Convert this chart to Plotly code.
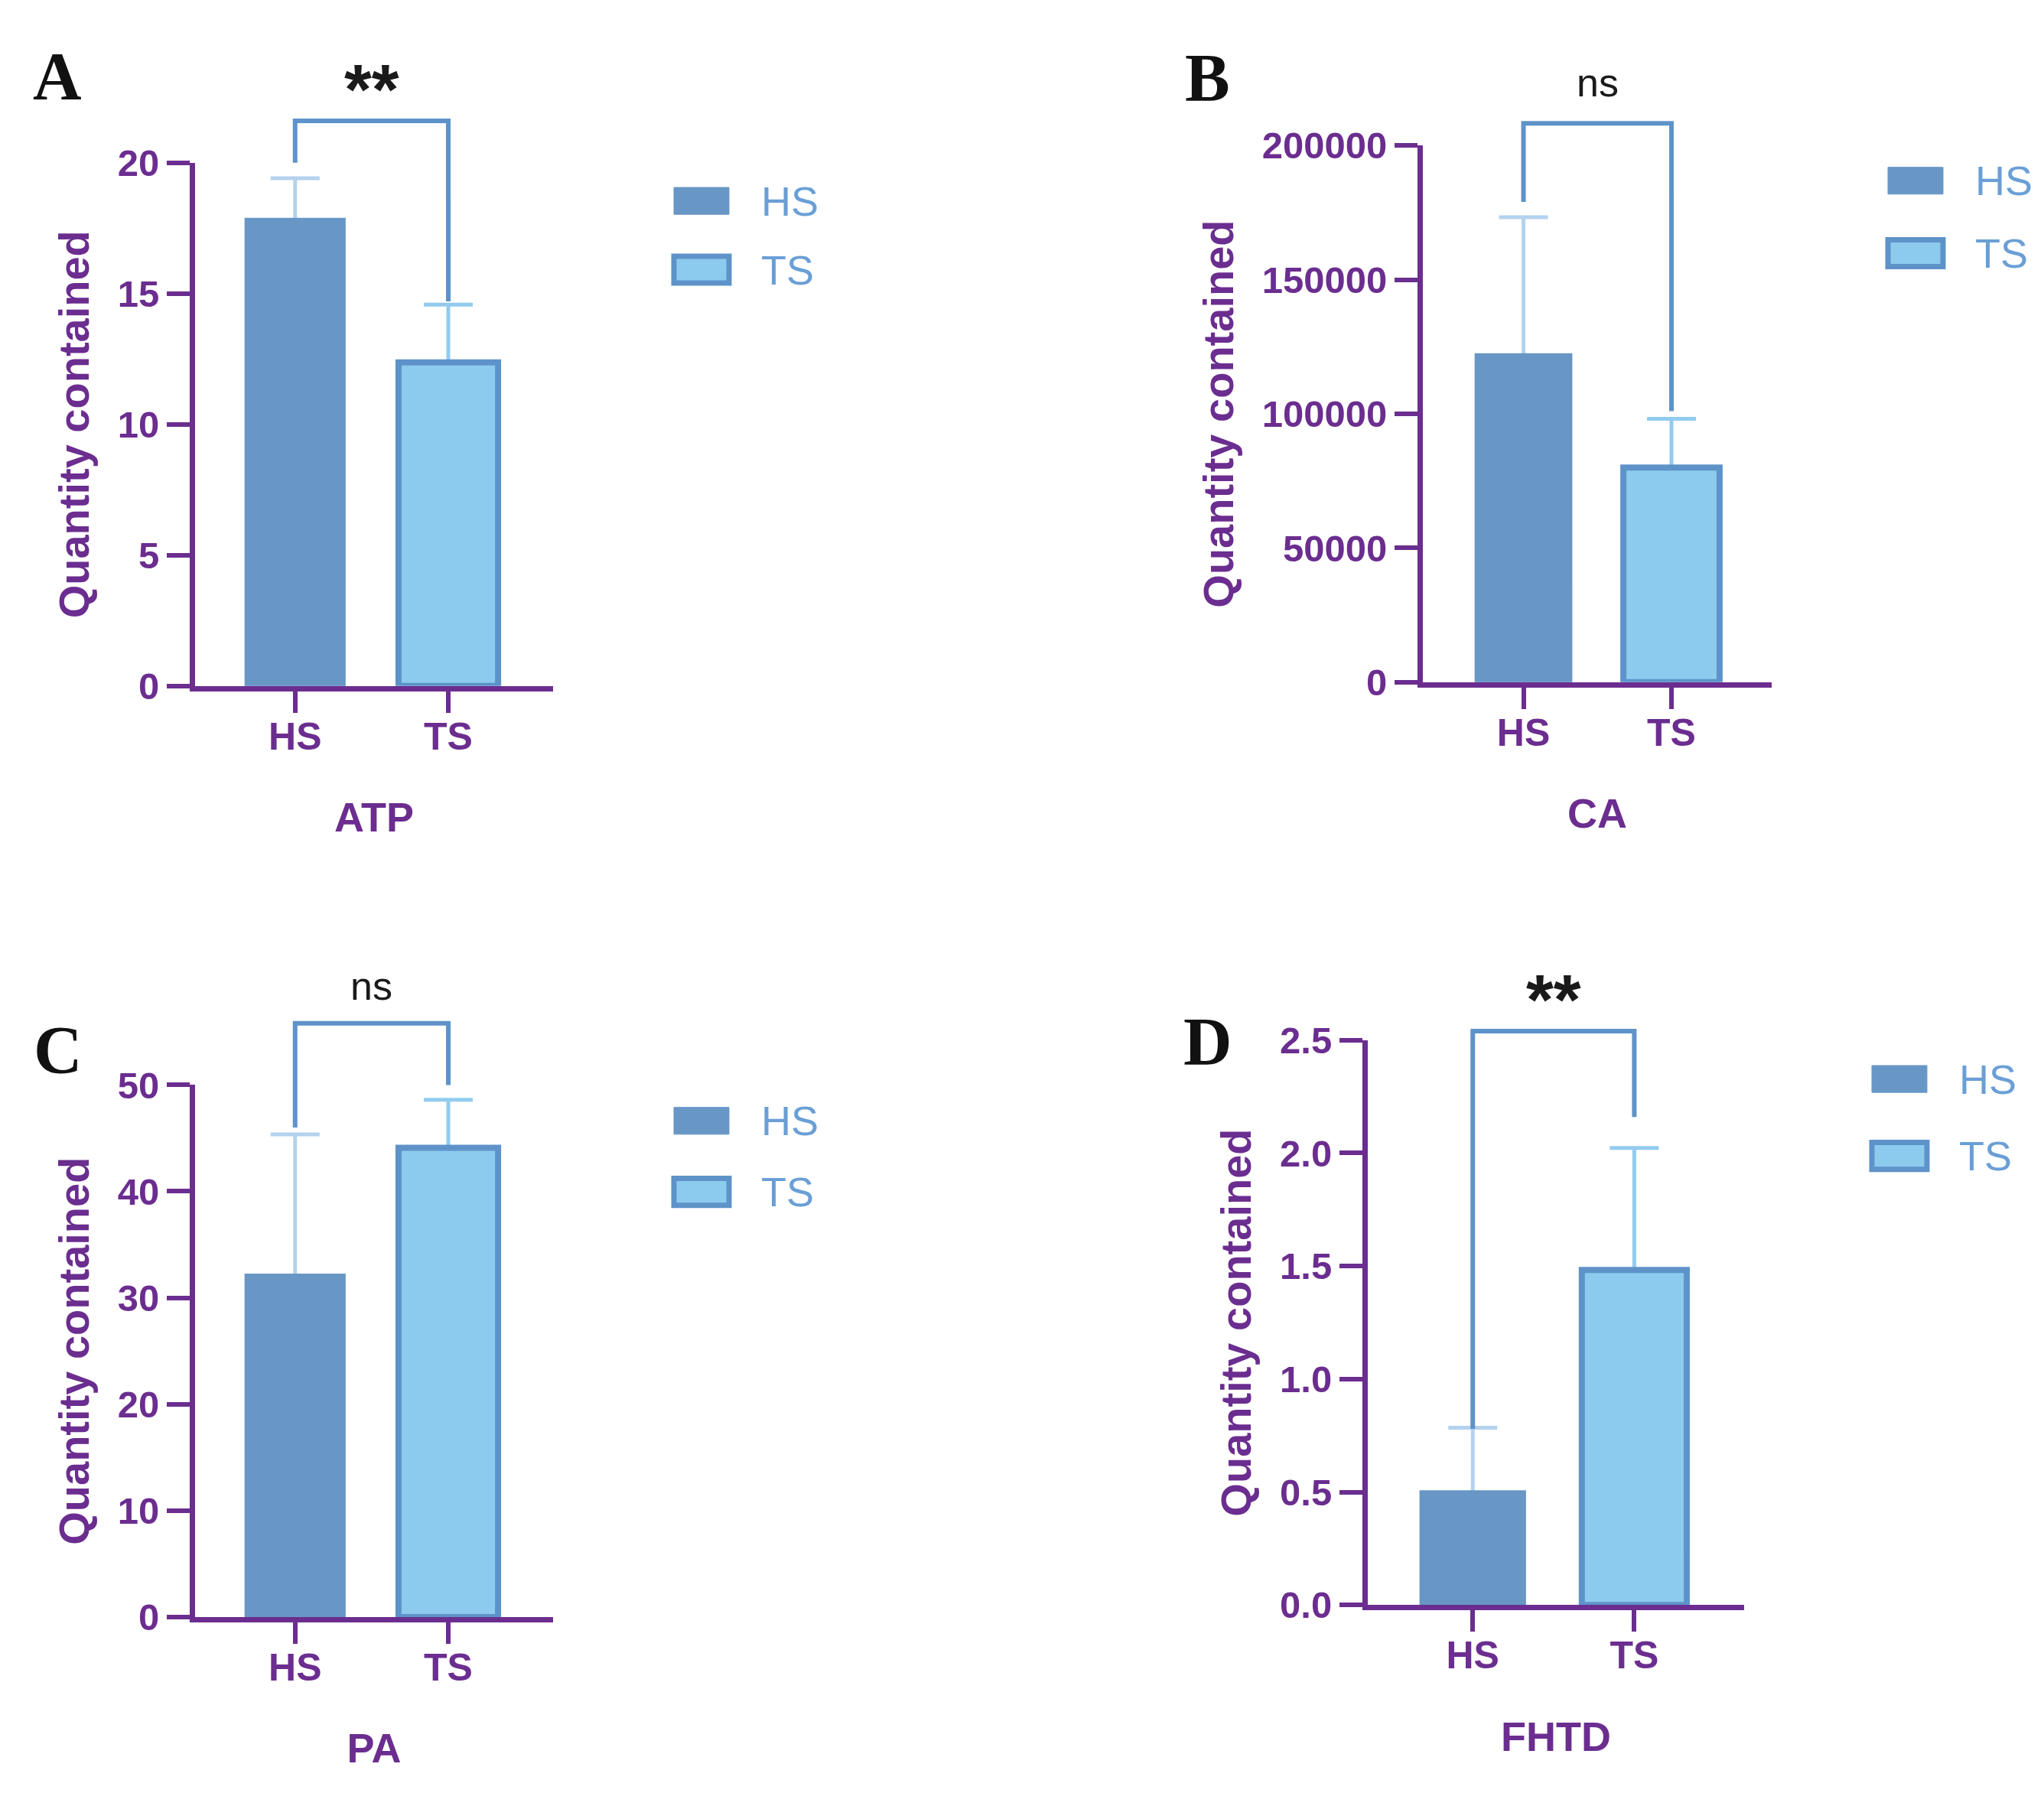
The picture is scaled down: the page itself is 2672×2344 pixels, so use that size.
import plotly.graph_objects as go

W, H = 2672, 2344

groups = ["HS", "TS"]
panel_letters = ["A", "B", "C", "D"]
metrics = ["ATP", "CA", "PA", "FHTD"]

atp_mean = [17.87, 12.37]
atp_sd = [1.54, 2.21]
ca_mean = [122300, 80000]
ca_sd = [51000, 18200]
pa_mean = [32.2, 44.1]
pa_sd = [13.15, 4.5]
fhtd_mean = [0.505, 1.483]
fhtd_sd = [0.28, 0.54]

y_max = [20, 200000, 50, 2.5]
y_ticks = [
    [0, 5, 10, 15, 20],
    [0, 50000, 100000, 150000, 200000],
    [0, 10, 20, 30, 40, 50],
    [0, 0.5, 1.0, 1.5, 2.0, 2.5],
]

sig_labels = ["**", "ns", "ns", "**"]
sig_y = [22.8, 223400, 59.3, 2.68]
bracket_top = [21.6, 208300, 55.8, 2.54]
bracket_left = [20.0, 179000, 46.0, 0.78]
bracket_right = [14.7, 101000, 50.0, 2.16]

means = [atp_mean, ca_mean, pa_mean, fhtd_mean]
sds = [atp_sd, ca_sd, pa_sd, fhtd_sd]

PURPLE = "#6B2D8F"
HS_FILL = "#6897C6"
TS_FILL = "#8DCBEE"
TS_EDGE = "#5E93C9"
HS_ERR = "#B3D2EE"
TS_ERR = "#92CBEF"
BRACKET = "#5E93C9"
LEGEND_TXT = "#6A9FD6"
SANS = "Arial, Liberation Sans, sans-serif"

# pixel boxes of each panel: left, right, bottom (y=0), top (y max), category range
boxes = [
    (247, 715, 882, 182, [-0.653, 1.684]),
    (1852, 2308, 877, 159, [-0.68, 1.677]),
    (247, 715, 2128, 1416, [-0.653, 1.684]),
    (1780, 2272, 2112, 1356, [-0.65, 1.68]),
]
letter_pos = [(67, 66), (1571, 68), (68, 1369), (1571, 1358)]
legend_x = [873, 2460, 873, 2439]
legend_y = [(233, 325), (206, 303), (1464, 1559), (1408, 1511)]
tick_fmt = ["d", "d", "d", ".1f"]


def px_x(v):
    return v / W


def px_y(v):
    return 1 - v / H


fig = go.Figure()
layout = {}
shapes = []
annotations = []

for i in range(4):
    n = i + 1
    left, right, bottom, top, xr = boxes[i]
    xname = "x" if n == 1 else f"x{n}"
    yname = "y" if n == 1 else f"y{n}"
    ext = f"y{n + 4}"
    ext_top = max(top - 170, 0)
    ext_range = y_max[i] * (bottom - ext_top) / (bottom - top)

    for g, fill, edge, lw, err in [
        (0, HS_FILL, HS_FILL, 2, HS_ERR),
        (1, TS_FILL, TS_EDGE, 8, TS_ERR),
    ]:
        # error bar first (its lower cap ends up hidden under the bar)
        fig.add_trace(go.Bar(
            x=[groups[g]], y=[means[i][g]],
            xaxis=xname, yaxis=yname, width=0.65,
            marker=dict(color="rgba(0,0,0,0)", line=dict(width=0)),
            error_y=dict(type="data", symmetric=False,
                         array=[sds[i][g]], arrayminus=[y_max[i] * 0.03],
                         color=err, thickness=5, width=32),
            showlegend=False, hoverinfo="skip",
        ))
        fig.add_trace(go.Bar(
            x=[groups[g]], y=[means[i][g]],
            xaxis=xname, yaxis=yname, width=0.65,
            marker=dict(color=fill, line=dict(color=edge, width=lw)),
            showlegend=False, hoverinfo="y",
        ))

    # significance bracket, on a hidden axis that reaches above the panel
    fig.add_trace(go.Scatter(
        x=[groups[0], groups[0], groups[1], groups[1]],
        y=[bracket_left[i], bracket_top[i], bracket_top[i], bracket_right[i]],
        xaxis=xname, yaxis=ext, mode="lines",
        line=dict(color=BRACKET, width=6),
        showlegend=False, hoverinfo="skip",
    ))

    layout["xaxis" if n == 1 else f"xaxis{n}"] = dict(
        domain=[px_x(left), px_x(right)], anchor=yname,
        type="category", categoryorder="array", categoryarray=groups,
        range=xr, showline=True, linecolor=PURPLE, linewidth=7,
        ticks="outside", ticklen=28, tickwidth=6, tickcolor=PURPLE,
        ticklabelstandoff=-12,
        tickfont=dict(family=SANS, size=50, color=PURPLE, weight="bold"),
        showgrid=False, zeroline=False,
        title=dict(text=metrics[i], standoff=62,
                   font=dict(family=SANS, size=54, color=PURPLE, weight="bold")),
    )
    layout["yaxis" if n == 1 else f"yaxis{n}"] = dict(
        domain=[px_y(bottom), px_y(top)], anchor=xname,
        range=[0, y_max[i]], tickvals=y_ticks[i], tickformat=tick_fmt[i],
        showline=True, linecolor=PURPLE, linewidth=7,
        ticks="outside", ticklen=30, tickwidth=6, tickcolor=PURPLE,
        tickfont=dict(family=SANS, size=49, color=PURPLE, weight="bold"),
        showgrid=False, zeroline=False,
        title=dict(text="Quantity contained", standoff=22,
                   font=dict(family=SANS, size=56, color=PURPLE, weight="bold")),
    )
    layout[f"yaxis{n + 4}"] = dict(
        domain=[px_y(bottom), px_y(ext_top)], anchor=xname,
        range=[0, ext_range], visible=False, showgrid=False, zeroline=False,
    )

    star = sig_labels[i] == "**"
    annotations.append(dict(
        x=0.5, y=sig_y[i], xref=xname, yref=ext, text=sig_labels[i],
        showarrow=False, xanchor="center", yanchor="middle",
        font=dict(family=SANS, size=92 if star else 52, color="#1a1a1a",
                  weight="bold" if star else "normal"),
    ))
    lx, ly = letter_pos[i]
    annotations.append(dict(
        x=px_x(lx), y=px_y(ly), xref="paper", yref="paper",
        text=panel_letters[i], showarrow=False,
        xanchor="center", yanchor="middle",
        font=dict(family="Liberation Serif, Times New Roman, serif",
                  size=88, color="#111111", weight="bold"),
    ))

    # legend drawn beside each panel
    sx0 = legend_x[i]
    for g, fill, edge in [(0, HS_FILL, HS_FILL), (1, TS_FILL, TS_EDGE)]:
        cy = legend_y[i][g]
        shapes.append(dict(
            type="rect", xref="paper", yref="paper",
            x0=px_x(sx0), x1=px_x(sx0 + 72),
            y0=px_y(cy + 18), y1=px_y(cy - 18),
            fillcolor=fill, line=dict(color=edge, width=7 if g else 1),
        ))
        annotations.append(dict(
            x=px_x(sx0 + 112), y=px_y(cy), xref="paper", yref="paper",
            text=groups[g], showarrow=False, xanchor="left", yanchor="middle",
            font=dict(family=SANS, size=54, color=LEGEND_TXT),
        ))

fig.update_layout(
    width=W, height=H,
    margin=dict(l=0, r=0, t=0, b=0),
    paper_bgcolor="white", plot_bgcolor="rgba(0,0,0,0)",
    barmode="overlay", showlegend=False,
    shapes=shapes, annotations=annotations,
    **layout,
)

fig.write_html("out.html")
